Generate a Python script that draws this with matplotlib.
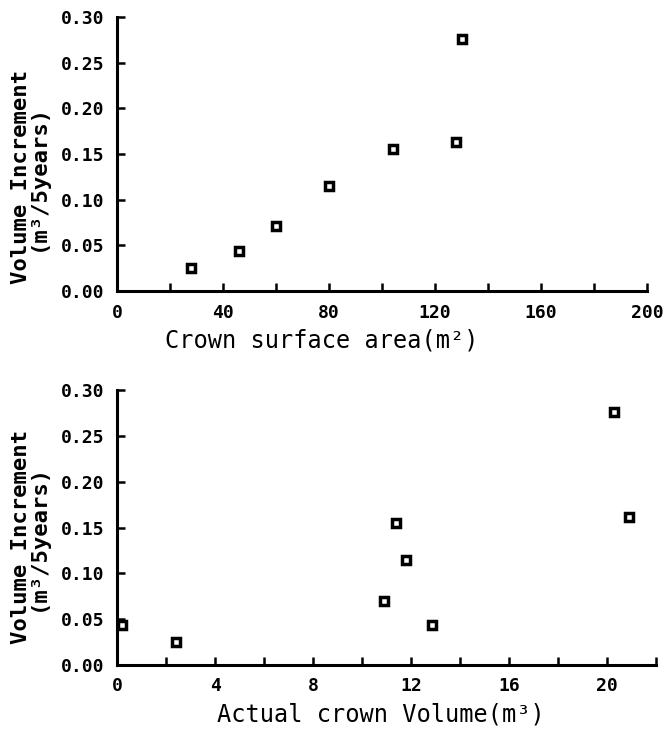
import matplotlib
matplotlib.use('Agg')
import matplotlib.pyplot as plt
import numpy as np

# crown surface area (m2) vs volume increment
area = [28, 46, 60, 80, 104, 128, 130]
area_inc = [0.025, 0.044, 0.071, 0.115, 0.155, 0.163, 0.276]

# actual crown volume (m3) vs volume increment
vol = [0.2, 2.4, 10.9, 11.4, 11.8, 12.85, 20.3, 20.9]
vol_inc = [0.044, 0.025, 0.070, 0.155, 0.115, 0.044, 0.276, 0.162]

yticks = [0.00, 0.05, 0.10, 0.15, 0.20, 0.25, 0.30]
top_xticks = [0, 40, 80, 120, 160, 200]
bot_xticks = [0, 4, 8, 12, 16, 20]

plt.rcParams['font.family'] = ['DejaVu Sans Mono', 'DejaVu Sans']

fig = plt.figure(figsize=(6.66, 7.29), dpi=100)
ax1 = fig.add_axes([0.1757, 0.6008, 0.7958, 0.3759])
ax2 = fig.add_axes([0.1757, 0.0878, 0.8093, 0.3772])

def style(ax, xmax, xmajor, xminor_step):
    ax.set_xlim(0, xmax)
    ax.set_ylim(0, 0.30)
    for s in ['top', 'right']:
        ax.spines[s].set_visible(False)
    for s in ['left', 'bottom']:
        ax.spines[s].set_linewidth(2.2)
    ax.set_yticks(yticks)
    ax.set_yticklabels(['%.2f' % v for v in yticks])
    ax.set_xticks(xmajor)
    ax.set_xticklabels([str(v) for v in xmajor])
    ax.set_xticks(np.arange(0, xmax + 0.001, xminor_step), minor=True)
    ax.tick_params(axis='both', which='both', direction='in', length=6, width=1.8)
    ax.tick_params(axis='y', pad=9, labelsize=13)
    ax.tick_params(axis='x', pad=9, labelsize=13)
    for lab in ax.get_xticklabels() + ax.get_yticklabels():
        lab.set_fontweight('bold')

style(ax1, 200, top_xticks, 20)
style(ax2, 22, bot_xticks, 2)

mk = dict(marker='s', linestyle='none', markersize=6, markerfacecolor='white',
          markeredgecolor='black', markeredgewidth=2.5, clip_on=False)
ax1.plot(area, area_inc, **mk)
ax2.plot(vol, vol_inc, **mk)

ax1.set_xlabel('Crown surface area(m²)', fontsize=17)
ax1.xaxis.set_label_coords(0.387, -0.135)
ax2.set_xlabel('Actual crown Volume(m³)', fontsize=17)
ax2.xaxis.set_label_coords(0.49, -0.135)

for ax, xc, yc in [(ax1, -0.13, 0.416), (ax2, -0.128, 0.465)]:
    ax.set_ylabel('Volume Increment\n(m³/5years)', fontsize=16, fontweight='bold',
                  linespacing=0.8)
    ax.yaxis.set_label_coords(xc, yc)

fig.savefig('out.png', dpi=100)
